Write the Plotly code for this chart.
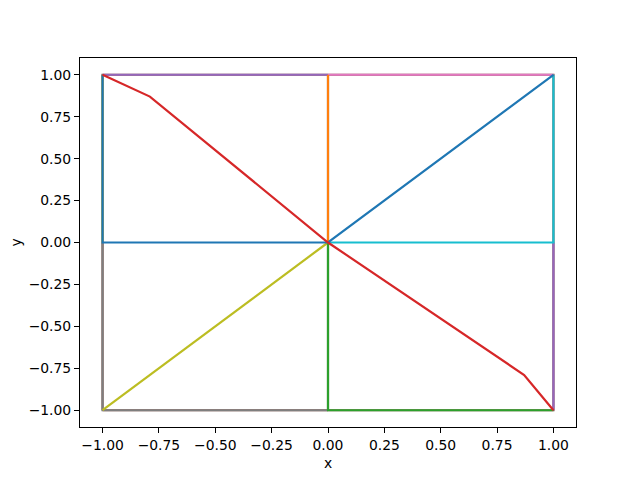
import plotly.graph_objects as go

# Line series (matplotlib tab10 colours), drawn in order
brown_x = [-1, 1, 1, -1, -1]
brown_y = [-1, -1, 1, 1, -1]
gray_x = [0, 0, None, -1, -1, 0]
gray_y = [1, -1, None, 0, -1, -1]
olive_x = [-1, -1, None, -1, 0]
olive_y = [0, 1, None, -1, 0]
pink_x = [0, 1]
pink_y = [1, 1]
purple_x = [-1, 0, None, 1, 1]
purple_y = [1, 1, None, 0, -1]
cyan_x = [0, 1, 1]
cyan_y = [0, 0, 1]
green_x = [0, 0, 1]
green_y = [0, -1, -1]
orange_x = [0, 0]
orange_y = [0, 1]
blue_x = [-1, -1, 0, 1]
blue_y = [1, 0, 0, 1]
red_x = [-1, -0.79, 0, 0.87, 1]
red_y = [1, 0.87, 0, -0.79, -1]

tick_vals = [-1.0, -0.75, -0.5, -0.25, 0.0, 0.25, 0.5, 0.75, 1.0]

series = [
    (brown_x, brown_y, "#8c564b"),
    (gray_x, gray_y, "#7f7f7f"),
    (olive_x, olive_y, "#bcbd22"),
    (pink_x, pink_y, "#e377c2"),
    (purple_x, purple_y, "#9467bd"),
    (cyan_x, cyan_y, "#17becf"),
    (green_x, green_y, "#2ca02c"),
    (orange_x, orange_y, "#ff7f0e"),
    (blue_x, blue_y, "#1f77b4"),
    (red_x, red_y, "#d62728"),
]

fig = go.Figure()
for xs, ys, c in series:
    fig.add_trace(go.Scatter(x=xs, y=ys, mode="lines", line=dict(color=c, width=2.2),
                             showlegend=False, connectgaps=False))

axis_common = dict(
    showgrid=False, zeroline=False, showline=True, linecolor="black", linewidth=1,
    mirror=True, ticks="outside", ticklen=5, tickwidth=1, tickcolor="black",
    tickvals=tick_vals, tickformat=".2f", automargin=False,
    tickfont=dict(family="DejaVu Sans", size=13.9, color="black"),
)

# page body adds an 8px offset, so margins are shifted to compensate
fig.update_layout(
    width=640, height=480,
    margin=dict(l=72, r=72, t=50, b=61, autoexpand=False),
    paper_bgcolor="white", plot_bgcolor="white",
    font=dict(family="DejaVu Sans", size=13.9, color="black"),
    xaxis=dict(range=[-1.1, 1.1], title=dict(text="x", standoff=6, font=dict(size=13.9)), **axis_common),
    yaxis=dict(range=[-1.1, 1.1], title=dict(text="y", standoff=8, font=dict(size=13.9)), **axis_common),
)

fig.write_html("out.html")
